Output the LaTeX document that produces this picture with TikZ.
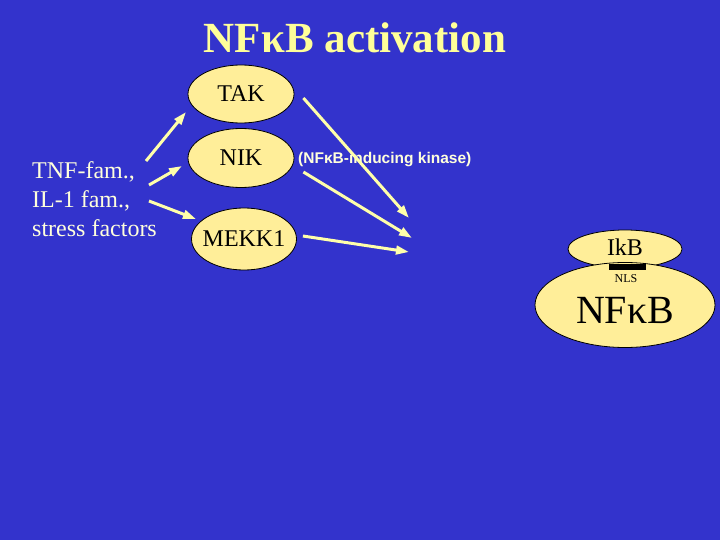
\documentclass[tikz,border=0pt]{standalone}
\usepackage{fontspec}
\setmainfont{Liberation Serif}
\setsansfont{Liberation Sans}
\usetikzlibrary{shapes.geometric,arrows.meta}
\definecolor{bgblue}{RGB}{51,51,204}
\definecolor{pale}{RGB}{255,238,153}
\definecolor{titleyel}{RGB}{255,255,153}
\definecolor{txtwhite}{RGB}{255,255,220}
\definecolor{arrowyel}{RGB}{255,255,170}
\begin{document}
\begin{tikzpicture}[x=1pt,y=-1pt,
  blob/.style={ellipse,draw=black,line width=0.8pt,fill=pale,inner sep=-14pt,
    font=\fontsize{24}{28}\selectfont},
  feed/.style={draw=arrowyel,line width=3pt,
    -{Triangle[length=13pt,width=8.5pt]}}]
\fill[bgblue] (0,0) rectangle (720,540);
\useasboundingbox (0,0) rectangle (720,540);

\node[anchor=base, text=titleyel, font=\fontsize{43}{48}\selectfont\bfseries] (title) at (355,53) {NFκB activation};

\node[blob, minimum width=106pt, minimum height=58pt] (tak) at (241,94) {TAK};
\node[blob, minimum width=106pt, minimum height=59pt] (nik) at (241,158) {NIK};
\node[blob, minimum width=105pt, minimum height=62pt] (mekk) at (244,239) {MEKK1};

\node[anchor=north west, inner sep=0pt, align=left, text=txtwhite,
  font=\fontsize{24}{29}\selectfont] (stim) at (32,161) {TNF-fam.,\\IL-1 fam.,\\stress factors};

\node[anchor=west, inner sep=0pt, text=txtwhite, font=\fontsize{15.5}{18}\sffamily\bfseries] (niklabel) at (298,160) {(NFκB-inducing kinase)};

% left arrows
\coordinate (s1) at (146,161);
\coordinate (s2) at (149,185);
\coordinate (s3) at (149,201);
\coordinate (a1) at (186,112);
\coordinate (a2) at (182,166);
\coordinate (a3) at (196,219);
\draw[feed] (s1) -- (a1);
\draw[feed] (s2) -- (a2);
\draw[feed] (s3) -- (a3);

% right arrows
\coordinate (e1) at (409,218);
\coordinate (e2) at (412,238);
\coordinate (e3) at (409,252);
\draw[feed] (tak.east) ++(9,4) coordinate (t1) (t1) -- (e1);
\draw[feed] (nik.east) ++(9,14) coordinate (t2) (t2) -- (e2);
\draw[feed] (mekk.east) ++(6,-3) coordinate (t3) (t3) -- (e3);

% IkB / NFkB complex
\node[ellipse, draw=black, line width=0.8pt, fill=pale, inner sep=0pt,
  minimum width=114pt, minimum height=38pt] (ikb) at (625,249) {};
\node[ellipse, draw=black, line width=0.8pt, fill=pale, inner sep=0pt,
  minimum width=180pt, minimum height=85pt] (nfkb) at (625,305) {};
\node[font=\fontsize{24}{28}\selectfont, inner sep=0pt] (ikbtext) at (625,247) {IkB};
\node[fill=black, minimum width=37pt, minimum height=6pt, inner sep=0pt] (nls) at (627,267) {};
\node[font=\fontsize{12}{14}\selectfont, inner sep=0pt] (nlstext) at (626,279) {NLS};
\node[font=\fontsize{40}{44}\selectfont, inner sep=0pt] (nfkbtext) at (625,310) {NFκB};
\end{tikzpicture}
\end{document}
